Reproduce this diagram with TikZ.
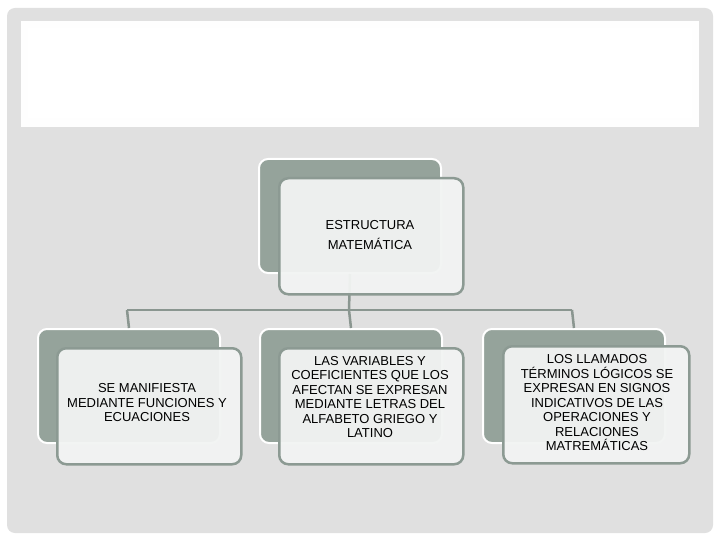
\documentclass[tikz,border=0pt]{standalone}
\usepackage{fontspec}
\setmainfont{Liberation Sans}
\definecolor{pagebg}{HTML}{E0E0E0}
\definecolor{backbox}{HTML}{95A39B}
\definecolor{frontfill}{HTML}{F2F4F3}
\definecolor{frontline}{HTML}{8C9A93}
\definecolor{linkcol}{HTML}{8A9690}
\tikzset{
  backbox/.style={fill=backbox, draw=white, line width=2pt, rounded corners=9pt},
  frontbox/.style={fill=frontfill, fill opacity=0.95, draw=frontline, line width=2.5pt, rounded corners=9pt},
  boxtext/.style={align=center, font=\fontsize{13}{14.5}\selectfont, text=black},
  link/.style={draw=linkcol, line width=2.5pt},
}
\begin{document}
\begin{tikzpicture}[x=1pt,y=-1pt]
\useasboundingbox (0,0) rectangle (720,540);
\fill[white] (0,0) rectangle (720,540);
\fill[pagebg, rounded corners=8pt] (7,8) rectangle (713,533);
\fill[white!97!pagebg] (21,21) rectangle (699,127);
\fill[white] (28,28) rectangle (692,118);
% connectors
\coordinate (hl) at (127,310);
\coordinate (hm) at (349,310);
\coordinate (hr) at (572,310);
\node[backbox, minimum width=182pt, minimum height=114pt, anchor=north west, inner sep=0pt] (tb) at (258,158) {};
\node[backbox, minimum width=182pt, minimum height=114pt, anchor=north west, inner sep=0pt] (lb) at (37,328) {};
\node[backbox, minimum width=182pt, minimum height=114pt, anchor=north west, inner sep=0pt] (mb) at (259,328) {};
\node[backbox, minimum width=182pt, minimum height=114pt, anchor=north west, inner sep=0pt] (rb) at (482,328) {};
\draw[link] (tb.south) -- (hm);
\draw[link] (hl) -- (hr);
\draw[link] (hl) -- (lb.north);
\draw[link] (hm) -- (mb.north);
\draw[link] (hr) -- (rb.north);
\node[frontbox, minimum width=184pt, minimum height=116pt, anchor=north west, inner sep=0pt] (tf) at (278,177) {};
\node[frontbox, minimum width=184pt, minimum height=116pt, anchor=north west, inner sep=0pt] (lf) at (56,347) {};
\node[frontbox, minimum width=184pt, minimum height=116pt, anchor=north west, inner sep=0pt] (mf) at (278,347) {};
\node[frontbox, minimum width=186pt, minimum height=117pt, anchor=north west, inner sep=0pt] (rf) at (502,345) {};
\node[boxtext, font=\fontsize{13}{20}\selectfont] (tt) at (370,235) {ESTRUCTURA\\MATEMÁTICA};
\node[boxtext] (lt) at (147,403) {SE MANIFIESTA\\MEDIANTE FUNCIONES Y\\ECUACIONES};
\node[boxtext] (mt) at (370,397) {LAS VARIABLES Y\\COEFICIENTES QUE LOS\\AFECTAN SE EXPRESAN\\MEDIANTE LETRAS DEL\\ALFABETO GRIEGO Y\\LATINO};
\node[boxtext] (rt) at (597,403) {LOS LLAMADOS\\TÉRMINOS LÓGICOS SE\\EXPRESAN EN SIGNOS\\INDICATIVOS DE LAS\\OPERACIONES Y\\RELACIONES\\MATREMÁTICAS};
\end{tikzpicture}
\end{document}
